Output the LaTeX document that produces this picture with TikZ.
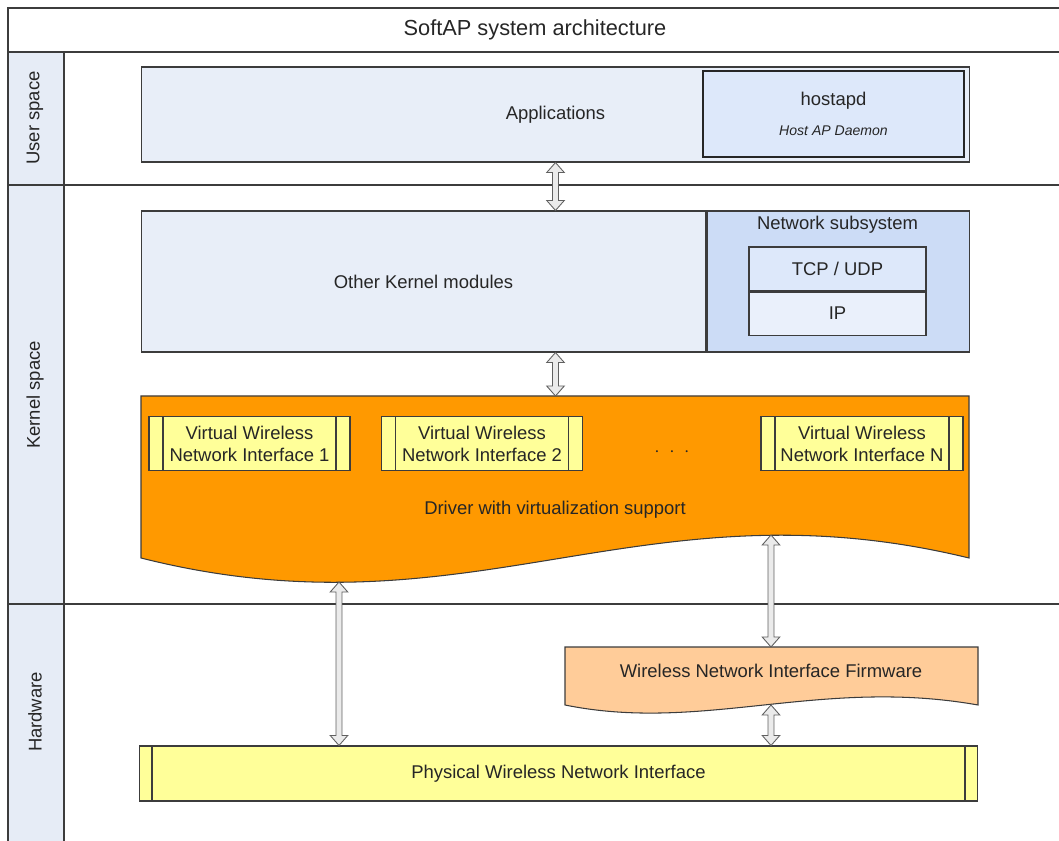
\documentclass[tikz,border=0pt]{standalone}
\usepackage{fontspec}
\setmainfont{Liberation Sans}
\usetikzlibrary{positioning, calc}

\definecolor{laneblue}{HTML}{E6ECF6}
\definecolor{boxblue}{HTML}{E8EEF8}
\definecolor{hostblue}{HTML}{DDE8FA}
\definecolor{netblue}{HTML}{CCDCF6}
\definecolor{ipblue}{HTML}{EAF0FB}
\definecolor{drvorange}{HTML}{FF9900}
\definecolor{fwpeach}{HTML}{FFCC99}
\definecolor{ifyellow}{HTML}{FFFF99}
\definecolor{arrowgray}{HTML}{EBEBEB}
\definecolor{linegray}{HTML}{3C3C3C}

\begin{document}
\begin{tikzpicture}[x=0.02cm, y=-0.02cm,
  font=\fontsize{10.5}{12.5}\selectfont, text=black!85,
  frame/.style={draw=linegray, line width=0.8pt},
  outline/.style={draw=linegray, line width=0.6pt},
  box/.style={outline, rectangle, inner sep=0pt, align=center},
  ifbox/.style={box, fill=ifyellow, path picture={
      \draw[linegray, line width=0.7pt]
        ([xshift=#1]path picture bounding box.south west) -- ([xshift=#1]path picture bounding box.north west)
        ([xshift=-#1]path picture bounding box.south east) -- ([xshift=-#1]path picture bounding box.north east);}},
  lane/.style={rotate=90},
  biarrow/.style={draw=gray!75!black, fill=arrowgray, line width=0.5pt, to path={
      let \p1=(\tikztostart), \p2=(\tikztotarget) in
      (\x1,\y1) -- (\x1+5pt,\y1-5.7pt) -- (\x1+1.7pt,\y1-5.7pt) -- (\x1+1.7pt,\y2+5.7pt)
      -- (\x1+5pt,\y2+5.7pt) -- (\x1,\y2) -- (\x1-5pt,\y2+5.7pt) -- (\x1-1.7pt,\y2+5.7pt)
      -- (\x1-1.7pt,\y1-5.7pt) -- (\x1-5pt,\y1-5.7pt) -- cycle}}]
\useasboundingbox (0,0) rectangle (1059,841);

% Swimlane frame
\fill[laneblue] (8,52) rectangle (64,841);
\draw[frame] (1059,8) -- (8,8) -- (8,841);
\draw[frame] (8,52) -- (1059,52);
\draw[frame] (64,52) -- (64,841);
\draw[frame] (8,185) -- (1059,185);
\draw[frame] (8,604) -- (1059,604);

\node[font=\fontsize{12.4}{14}\selectfont] (title) at (535,30) {SoftAP system architecture};
\node[lane] (lnuser) at (35,118) {User space};
\node[lane] (lnkernel) at (35,395) {Kernel space};
\node[lane] (lnhw) at (35,712) {Hardware};

% User space
\node[box, fill=boxblue, minimum width=16.58cm, minimum height=1.9cm] (app) at (555.5,114.5) {Applications};
\node[box, draw=black!85, line width=0.65pt, fill=hostblue, minimum width=5.22cm, minimum height=1.72cm] (hostapd) at (833.5,114)
  {hostapd\\[5pt]{\fontsize{8}{9.6}\selectfont\itshape Host AP Daemon}};

% Kernel space
\node[box, fill=boxblue, minimum width=11.3cm, minimum height=2.82cm] (okm) at (423.5,281.5) {Other Kernel modules};
\node[box, fill=netblue, minimum width=5.26cm, minimum height=2.82cm, right=0pt of okm] (net) {};
\node (netlbl) at (837.5,225) {Network subsystem};
\node[box, fill=hostblue, minimum width=3.54cm, minimum height=0.88cm] (tcp) at (837.5,269) {TCP / UDP};
\node[box, fill=ipblue, minimum width=3.54cm, minimum height=0.86cm, below=0pt of tcp] (ip) {IP};

% Driver with its wavy bottom edge
\draw[outline, fill=drvorange] (141,396) -- (969,396) -- (969,558)
  .. controls (640,478) and (470,641) .. (141,558) -- cycle;
\coordinate (drvN) at (555.5,396);
\coordinate (waveL) at (339,582);
\coordinate (waveR) at (771,535);
\node (drvlbl) at (555,510) {Driver with virtualization support};

\node[ifbox=0.28cm, minimum width=4.02cm, minimum height=1.08cm] (vw1) at (249.5,443.5) {Virtual Wireless\\Network Interface 1};
\node[ifbox=0.28cm, minimum width=4.02cm, minimum height=1.08cm] (vw2) at (482,443.5) {Virtual Wireless\\Network Interface 2};
\node[ifbox=0.28cm, minimum width=4.04cm, minimum height=1.08cm] (vwN) at (862,443.5) {Virtual Wireless\\Network Interface N};
\node (dots) at (672,452) {$\cdot\;\cdot\;\cdot$};

% Hardware
\draw[outline, fill=fwpeach] (565,647) -- (978,647) -- (978,705)
  .. controls (820,677) and (703,733) .. (565,705) -- cycle;
\coordinate (fwN) at (771,647);
\coordinate (fwS) at (771,705);
\node (fw) at (771,671) {Wireless Network Interface Firmware};

\node[ifbox=0.26cm, minimum width=16.78cm, minimum height=1.1cm] (phys) at (558.5,773.5) {Physical Wireless Network Interface};

% Arrows
\draw[biarrow] (app.south) to (app.south |- okm.north);
\draw[biarrow] (app.south |- okm.south) to (drvN);
\draw[biarrow] (waveL) to (waveL |- phys.north);
\draw[biarrow] (waveR) to (fwN);
\draw[biarrow] (fwS) to (fwS |- phys.north);
\end{tikzpicture}
\end{document}
